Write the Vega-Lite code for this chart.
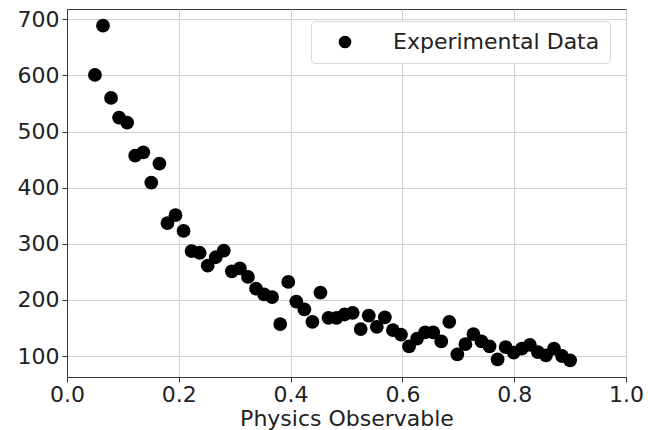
{
  "$schema": "https://vega.github.io/schema/vega-lite/v6.json",
  "width": 559,
  "height": 368,
  "autosize": {"type": "none"},
  "padding": {"left": 67, "top": 9, "right": 22, "bottom": 53},
  "background": "white",
  "config": {
    "font": "DejaVu Sans",
    "view": {"stroke": "#333333", "strokeWidth": 1},
    "axis": {
      "labelFont": "DejaVu Sans",
      "titleFont": "DejaVu Sans",
      "labelFontSize": 22,
      "titleFontSize": 22,
      "labelColor": "#222222",
      "titleColor": "#222222",
      "titleFontWeight": "normal",
      "gridColor": "#d0d0d0",
      "gridWidth": 1,
      "domainColor": "#333333",
      "tickColor": "#333333",
      "tickSize": 5,
      "labelPadding": 3
    }
  },
  "data": {
    "values": [
      {"x": 0.05, "y": 601, "series": "Experimental Data"},
      {"x": 0.0644, "y": 688.6, "series": "Experimental Data"},
      {"x": 0.0788, "y": 560, "series": "Experimental Data"},
      {"x": 0.0932, "y": 525, "series": "Experimental Data"},
      {"x": 0.1076, "y": 516, "series": "Experimental Data"},
      {"x": 0.1220, "y": 457, "series": "Experimental Data"},
      {"x": 0.1364, "y": 463, "series": "Experimental Data"},
      {"x": 0.1508, "y": 409, "series": "Experimental Data"},
      {"x": 0.1653, "y": 443, "series": "Experimental Data"},
      {"x": 0.1797, "y": 337, "series": "Experimental Data"},
      {"x": 0.1941, "y": 351, "series": "Experimental Data"},
      {"x": 0.2085, "y": 323, "series": "Experimental Data"},
      {"x": 0.2229, "y": 287, "series": "Experimental Data"},
      {"x": 0.2373, "y": 284, "series": "Experimental Data"},
      {"x": 0.2517, "y": 261, "series": "Experimental Data"},
      {"x": 0.2661, "y": 276, "series": "Experimental Data"},
      {"x": 0.2805, "y": 288, "series": "Experimental Data"},
      {"x": 0.2949, "y": 251, "series": "Experimental Data"},
      {"x": 0.3093, "y": 256, "series": "Experimental Data"},
      {"x": 0.3237, "y": 241, "series": "Experimental Data"},
      {"x": 0.3381, "y": 220, "series": "Experimental Data"},
      {"x": 0.3525, "y": 210, "series": "Experimental Data"},
      {"x": 0.3669, "y": 205, "series": "Experimental Data"},
      {"x": 0.3814, "y": 157, "series": "Experimental Data"},
      {"x": 0.3958, "y": 232, "series": "Experimental Data"},
      {"x": 0.4102, "y": 197, "series": "Experimental Data"},
      {"x": 0.4246, "y": 183, "series": "Experimental Data"},
      {"x": 0.4390, "y": 161, "series": "Experimental Data"},
      {"x": 0.4534, "y": 213, "series": "Experimental Data"},
      {"x": 0.4678, "y": 168, "series": "Experimental Data"},
      {"x": 0.4822, "y": 168, "series": "Experimental Data"},
      {"x": 0.4966, "y": 174, "series": "Experimental Data"},
      {"x": 0.5110, "y": 177, "series": "Experimental Data"},
      {"x": 0.5254, "y": 148, "series": "Experimental Data"},
      {"x": 0.5398, "y": 172, "series": "Experimental Data"},
      {"x": 0.5542, "y": 152, "series": "Experimental Data"},
      {"x": 0.5686, "y": 169, "series": "Experimental Data"},
      {"x": 0.5831, "y": 146, "series": "Experimental Data"},
      {"x": 0.5975, "y": 138, "series": "Experimental Data"},
      {"x": 0.6119, "y": 117, "series": "Experimental Data"},
      {"x": 0.6263, "y": 131, "series": "Experimental Data"},
      {"x": 0.6407, "y": 142, "series": "Experimental Data"},
      {"x": 0.6551, "y": 142, "series": "Experimental Data"},
      {"x": 0.6695, "y": 126, "series": "Experimental Data"},
      {"x": 0.6839, "y": 161, "series": "Experimental Data"},
      {"x": 0.6983, "y": 103, "series": "Experimental Data"},
      {"x": 0.7127, "y": 121, "series": "Experimental Data"},
      {"x": 0.7271, "y": 139, "series": "Experimental Data"},
      {"x": 0.7415, "y": 126, "series": "Experimental Data"},
      {"x": 0.7559, "y": 117, "series": "Experimental Data"},
      {"x": 0.7703, "y": 94, "series": "Experimental Data"},
      {"x": 0.7847, "y": 116, "series": "Experimental Data"},
      {"x": 0.7992, "y": 106, "series": "Experimental Data"},
      {"x": 0.8136, "y": 113, "series": "Experimental Data"},
      {"x": 0.8280, "y": 120, "series": "Experimental Data"},
      {"x": 0.8424, "y": 107, "series": "Experimental Data"},
      {"x": 0.8568, "y": 101, "series": "Experimental Data"},
      {"x": 0.8712, "y": 113, "series": "Experimental Data"},
      {"x": 0.8856, "y": 100, "series": "Experimental Data"},
      {"x": 0.9, "y": 92.4, "series": "Experimental Data"}
    ]
  },
  "mark": {"type": "point", "filled": true, "shape": "circle", "size": 190, "opacity": 1},
  "encoding": {
    "x": {
      "field": "x",
      "type": "quantitative",
      "title": "Physics Observable",
      "scale": {"domain": [0, 1], "nice": false, "zero": false},
      "axis": {"values": [0, 0.2, 0.4, 0.6, 0.8, 1.0], "format": ".1f", "labelPadding": 2, "titlePadding": 3, "labelFlush": false}
    },
    "y": {
      "field": "y",
      "type": "quantitative",
      "title": null,
      "scale": {"domain": [62.6, 718.4], "nice": false, "zero": false},
      "axis": {"values": [100, 200, 300, 400, 500, 600, 700], "format": "d", "labelFlush": false}
    },
    "color": {
      "field": "series",
      "type": "nominal",
      "scale": {"range": ["black"]},
      "legend": {
        "title": null,
        "orient": "none",
        "legendX": 244,
        "legendY": 12,
        "fillColor": "white",
        "strokeColor": "#d8d8d8",
        "cornerRadius": 4,
        "padding": 10,
        "symbolOffset": 13,
        "symbolSize": 160,
        "symbolType": "circle",
        "labelFontSize": 22,
        "labelFont": "DejaVu Sans",
        "labelColor": "#222222",
        "labelOffset": 37,
        "labelLimit": 0
      }
    }
  }
}
